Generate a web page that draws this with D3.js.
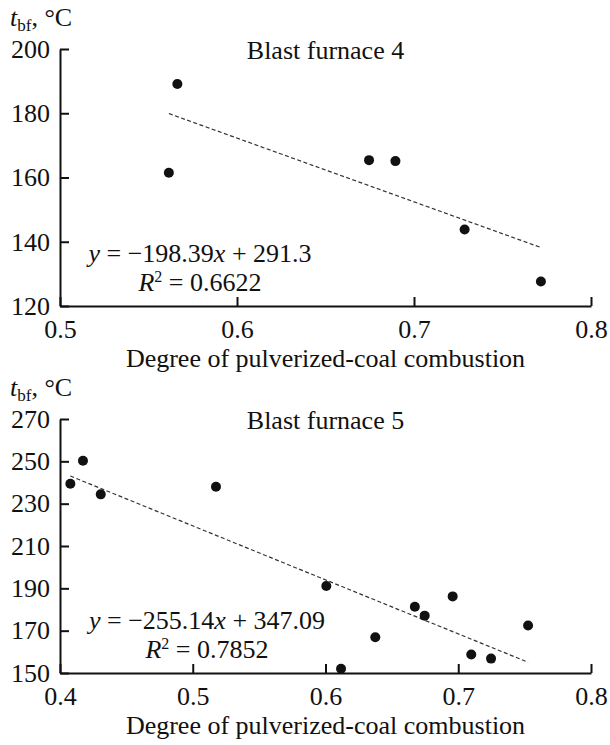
<!DOCTYPE html>
<html>
<head>
<meta charset="utf-8">
<script src="https://cdn.jsdelivr.net/npm/d3@7"></script>
<style>
  body { margin: 0; background: #fff; }
  svg { display: block; }
  text { font-family: "Liberation Serif", serif; fill: #111; }
</style>
</head>
<body>
<div id="chart"></div>
<script>
// blast furnace 4 data
const bf4X = [0.5615, 0.5663, 0.6746, 0.6895, 0.7286, 0.7717];
const bf4Y = [161.5, 189.1, 165.4, 165.1, 143.8, 127.6];

// blast furnace 5 data
const bf5X = [0.4078, 0.4173, 0.4307, 0.5175, 0.6006, 0.6117, 0.6375, 0.6673, 0.6747, 0.6958, 0.7098, 0.7247, 0.7526];
const bf5Y = [239.4, 250.3, 234.4, 238.0, 191.1, 152.0, 166.9, 181.3, 177.1, 186.2, 158.7, 156.8, 172.4];

// regression lines as printed on the chart
const slopes = [-198.39, -255.14];
const intercepts = [291.3, 347.09];
const r2Values = ["0.6622", "0.7852"];

// tick labels
const bf4XTicks = [0.5, 0.6, 0.7, 0.8];
const bf4YTicks = [120, 140, 160, 180, 200];
const bf5XTicks = [0.4, 0.5, 0.6, 0.7, 0.8];
const bf5YTicks = [150, 170, 190, 210, 230, 250, 270];

const titles = ["Blast furnace 4", "Blast furnace 5"];
const xTitle = "Degree of pulverized-coal combustion";

const width = 610;
const height = 745;
const fontSize = 26;
const serif = '"Liberation Serif", serif';

const svg = d3
  .select("#chart")
  .append("svg")
  .attr("width", width)
  .attr("height", height)
  .attr("font-family", serif);

const renderPanel = ({ xs, ys, xTicks, yTicks, top, bottom, title, slope, intercept, r2, eqCenter }) => {
  const left = 60;
  const right = 591;

  const x = d3.scaleLinear().domain([xTicks[0], xTicks[xTicks.length - 1]]).range([left, right]);
  const y = d3.scaleLinear().domain([yTicks[0], yTicks[yTicks.length - 1]]).range([bottom, top]);

  const g = svg.append("g");

  // y axis, ticks pointing inward
  const yAxis = g
    .append("g")
    .attr("transform", `translate(${left},0)`)
    .call(d3.axisLeft(y).tickValues(yTicks).tickSizeInner(-9).tickSizeOuter(0).tickPadding(10).tickFormat(d3.format("d")));

  // x axis
  const xAxis = g
    .append("g")
    .attr("transform", `translate(0,${bottom})`)
    .call(d3.axisBottom(x).tickValues(xTicks).tickSizeInner(-9).tickSizeOuter(0).tickPadding(14).tickFormat(d3.format(".1f")));

  [yAxis, xAxis].forEach((a) => {
    a.attr("font-family", serif).attr("font-size", fontSize);
    a.select(".domain").attr("stroke", "#111").attr("stroke-width", 2);
    a.selectAll(".tick line").attr("stroke", "#111").attr("stroke-width", 2);
    a.selectAll(".tick text").attr("fill", "#111");
  });

  // axis unit label t_bf, °C
  const unit = g
    .append("text")
    .attr("x", 10)
    .attr("y", top - 23)
    .style("font-size", `${fontSize}px`);
  unit.append("tspan").attr("font-style", "italic").text("t");
  unit.append("tspan").attr("dy", 5).style("font-size", "17px").text("bf");
  unit.append("tspan").attr("dy", -5).text(", °C");

  // panel title
  g.append("text")
    .attr("x", (left + right) / 2)
    .attr("y", top + 10)
    .attr("text-anchor", "middle")
    .style("font-size", `${fontSize}px`)
    .text(title);

  // x axis title
  g.append("text")
    .attr("x", (left + right) / 2)
    .attr("y", bottom + 61)
    .attr("text-anchor", "middle")
    .style("font-size", `${fontSize}px`)
    .text(xTitle);

  // trend line over the data range
  const xMin = d3.min(xs);
  const xMax = d3.max(xs);
  g.append("line")
    .attr("x1", x(xMin))
    .attr("y1", y(slope * xMin + intercept))
    .attr("x2", x(xMax))
    .attr("y2", y(slope * xMax + intercept))
    .attr("stroke", "#333")
    .attr("stroke-width", 1.2)
    .attr("stroke-dasharray", "4,2.5");

  // points
  g.append("g")
    .selectAll("circle")
    .data(xs.map((v, i) => ({ x: v, y: ys[i] })))
    .join("circle")
    .attr("cx", (d) => x(d.x))
    .attr("cy", (d) => y(d.y))
    .attr("r", 5)
    .attr("fill", "#111");

  // regression equation
  const eq = g
    .append("text")
    .attr("x", eqCenter)
    .attr("y", bottom - 44)
    .attr("text-anchor", "middle")
    .style("font-size", `${fontSize}px`);
  eq.append("tspan").attr("font-style", "italic").text("y");
  eq.append("tspan").text(` = \u2212${Math.abs(slope)}`);
  eq.append("tspan").attr("font-style", "italic").text("x");
  eq.append("tspan").text(` + ${intercept}`);

  const r = g
    .append("text")
    .attr("x", eqCenter)
    .attr("y", bottom - 15)
    .attr("text-anchor", "middle")
    .style("font-size", `${fontSize}px`);
  r.append("tspan").attr("font-style", "italic").text("R");
  r.append("tspan").attr("dy", -9).style("font-size", "16px").text("2");
  r.append("tspan").attr("dy", 9).text(` = ${r2}`);
};

renderPanel({
  xs: bf4X, ys: bf4Y, xTicks: bf4XTicks, yTicks: bf4YTicks,
  top: 49, bottom: 306, title: titles[0],
  slope: slopes[0], intercept: intercepts[0], r2: r2Values[0], eqCenter: 200,
});

renderPanel({
  xs: bf5X, ys: bf5Y, xTicks: bf5XTicks, yTicks: bf5YTicks,
  top: 419, bottom: 673, title: titles[1],
  slope: slopes[1], intercept: intercepts[1], r2: r2Values[1], eqCenter: 207,
});
</script>
</body>
</html>
